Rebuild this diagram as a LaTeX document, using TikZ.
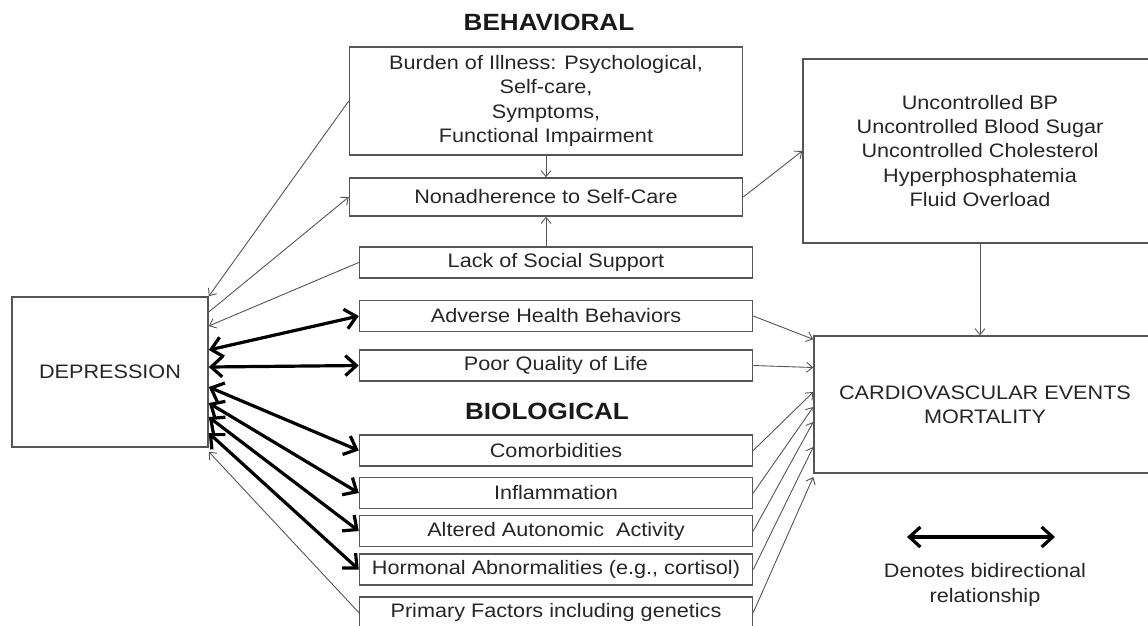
\documentclass[tikz,border=0pt]{standalone}
\usepackage{fontspec}
\setmainfont[FakeStretch=1.11]{Liberation Sans}
\usetikzlibrary{arrows.meta}
\definecolor{linegray}{HTML}{555555}
\definecolor{textgray}{HTML}{262626}
\tikzset{
  box/.style={draw=linegray, line width=1.5pt, text=textgray, align=center,
    inner sep=0pt, font=\fontsize{19.5}{24.3}\selectfont},
  label/.style={text=textgray, align=center, font=\fontsize{19.5}{24.3}\selectfont},
  head/.style={text=black!90, font=\fontsize{23.5}{26}\selectfont\bfseries},
  oneway/.style={draw=linegray, line width=0.9pt, -{Straight Barb[length=6pt,width=10pt]}},
  bidir/.style={draw=black, line width=3.2pt,
    {Straight Barb[length=11pt,width=20pt]}-{Straight Barb[length=11pt,width=20pt]}}
}
\begin{document}
\begin{tikzpicture}[x=1pt,y=-1pt]
			\useasboundingbox (0,0) rectangle (1148,625);
			% headings
			\node[head] (behav) at (549,22) {BEHAVIORAL};
			\node[head] (biol) at (547,411) {BIOLOGICAL};
			% depression
			\node[box, minimum width=196pt, minimum height=150pt] (depr) at (110,372) {DEPRESSION};
			% middle column
			\node[box, minimum width=393pt, minimum height=108pt] (burden) at (546,101)
				{Burden of Illness: Psychological,\\Self-care,\\Symptoms,\\Functional Impairment};
			\node[box, minimum width=393pt, minimum height=38pt] (nonadh) at (546,197) {Nonadherence to Self-Care};
			\foreach \n/\y/\t in {lack/262.5/Lack of Social Support, adv/316/Adverse Health Behaviors,
				poor/365.5/Poor Quality of Life, com/450.5/Comorbidities, infl/493/Inflammation,
				alt/531/Altered Autonomic\ \ Activity, horm/569.5/{Hormonal Abnormalities (e.g., cortisol)},
				prim/612.5/Primary Factors including genetics}
				\node[box, minimum width=393pt, minimum height=31pt] (\n) at (556,\y) {\t};
			% right column
			\node[box, minimum width=354pt, minimum height=184pt] (unctl) at (980,151)
				{Uncontrolled BP\\Uncontrolled Blood Sugar\\Uncontrolled Cholesterol\\Hyperphosphatemia\\Fluid Overload};
			\node[box, minimum width=342pt, minimum height=137pt] (cv) at (985,404.5)
				{CARDIOVASCULAR EVENTS\\MORTALITY};
			% one-way links
			\draw[oneway] (burden.west) -- (depr.north east);
			\draw[oneway] ([yshift=60pt]depr.east) -- (nonadh.west);
			\draw[oneway] (lack.west) -- ([yshift=46pt]depr.east);
			\draw[oneway] (prim.west) -- ([yshift=-4pt]depr.south east);
			\draw[oneway] (burden.south) -- (nonadh.north);
			\draw[oneway] (lack.north -| nonadh.south) -- (nonadh.south);
			\draw[oneway] (nonadh.east) -- (unctl.west);
			\draw[oneway] (unctl.south) -- (unctl.south |- cv.north);
			\draw[oneway] (adv.east) -- ([yshift=-4pt]cv.north west);
			\foreach \n/\s in {poor/37, com/12.5, infl/-2.5, alt/-17.5, horm/-42.5, prim/-72.5}
				\draw[oneway] (\n.east) -- ([yshift=\s pt]cv.west);
			% bidirectional links
			\foreach \n/\s in {adv/22, poor/5, com/-15, infl/-31, alt/-45, horm/-61}
				\draw[bidir] ([yshift=\s pt]depr.east) -- (\n.west);
			% legend
			\coordinate (lega) at (907,537);
			\coordinate (legb) at (1055,537);
			\draw[bidir] (lega) -- (legb);
			\node[label] (legtext) at (985,585) {Denotes bidirectional\\relationship};
\end{tikzpicture}
\end{document}
